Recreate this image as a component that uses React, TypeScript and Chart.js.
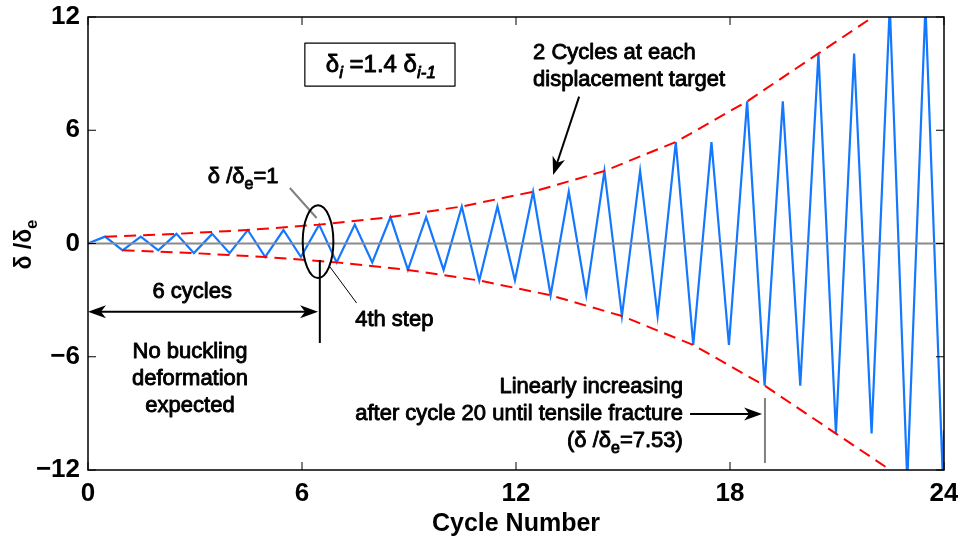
import React, { useEffect, useRef } from "react";
import { Chart, registerables } from "chart.js";

Chart.register(...registerables);

// ---------------- data ----------------
// x position (cycle number axis) of the positive peak of each cycle
const peakX = [0.48, 1.48, 2.48, 3.48, 4.48, 5.48, 6.48, 7.48, 8.48, 9.48, 10.48, 11.48,
  12.48, 13.48, 14.48, 15.48, 16.48, 17.48, 18.48, 19.48, 20.48, 21.48, 22.48, 23.48];
// x position of the negative peak of each cycle
const troughX = [0.97, 1.97, 2.97, 3.97, 4.97, 5.97, 6.97, 7.97, 8.97, 9.97, 10.97, 11.97,
  12.97, 13.97, 14.97, 15.97, 16.97, 17.97, 18.97, 19.97, 20.97, 21.97, 22.97, 23.97];
// amplitude δ/δe of each cycle (2 cycles at each displacement target)
const amplitudes = [0.364, 0.364, 0.51, 0.51, 0.714, 0.714, 1.0, 1.0, 1.4, 1.4, 1.96, 1.96,
  2.744, 2.744, 3.842, 3.842, 5.378, 5.378, 7.53, 7.53, 10.07, 10.07, 12.6, 12.6];
// first cycle of each displacement target (indices into the arrays above)
const stepStarts = [0, 2, 4, 6, 8, 10, 12, 14, 16, 18, 20, 22];
// start and end of the recorded history
const startPoint = { x: 0, y: 0 };
const endPoint = { x: 24, y: -9.9 };
// zero reference line
const zeroLineX = [0, 24];
const zeroLineY = [0, 0];
// axes
const xRange = [0, 24];
const yRange = [-12, 12];
const xTickStep = 6;
const yTickStep = 6;

// ---------------- derived series ----------------
const loadingPath: { x: number; y: number }[] = [startPoint];
peakX.forEach((px, i) => {
  loadingPath.push({ x: px, y: amplitudes[i] });
  loadingPath.push({ x: troughX[i], y: -amplitudes[i] });
});
loadingPath.push(endPoint);
const upperEnvelope = stepStarts.map((i) => ({ x: peakX[i], y: amplitudes[i] }));
const lowerEnvelope = stepStarts.map((i) => ({ x: troughX[i], y: -amplitudes[i] }));
const zeroLine = zeroLineX.map((x, i) => ({ x, y: zeroLineY[i] }));

const FONT = '"Liberation Sans", Arial, Helvetica, sans-serif';

type Part = { t: string; sub?: boolean; it?: boolean };

function drawRich(
  ctx: CanvasRenderingContext2D,
  parts: Part[],
  x: number,
  y: number,
  align: "left" | "center" | "right",
  size: number,
  weight = "normal",
  thicken = 0.9
) {
  const subSize = Math.round(size * 0.72);
  const fonts = parts.map(
    (p) => `${p.it ? "italic " : ""}${weight} ${p.sub ? subSize : size}px ${FONT}`
  );
  let total = 0;
  const ws = parts.map((p, i) => {
    ctx.font = fonts[i];
    const w = ctx.measureText(p.t).width;
    total += w;
    return w;
  });
  let cx = align === "left" ? x : align === "center" ? x - total / 2 : x - total;
  ctx.textAlign = "left";
  ctx.textBaseline = "alphabetic";
  ctx.lineJoin = "round";
  parts.forEach((p, i) => {
    ctx.font = fonts[i];
    const yy = p.sub ? y + size * 0.28 : y;
    ctx.fillText(p.t, cx, yy);
    if (thicken > 0) {
      ctx.lineWidth = thicken;
      ctx.strokeText(p.t, cx, yy);
    }
    cx += ws[i];
  });
}

function seg(ctx: CanvasRenderingContext2D, x1: number, y1: number, x2: number, y2: number) {
  ctx.beginPath();
  ctx.moveTo(x1, y1);
  ctx.lineTo(x2, y2);
  ctx.stroke();
}

function arrowHead(
  ctx: CanvasRenderingContext2D,
  x1: number,
  y1: number,
  x2: number,
  y2: number,
  head = 18,
  half = 6.5
) {
  const a = Math.atan2(y2 - y1, x2 - x1);
  const ux = Math.cos(a), uy = Math.sin(a);
  const nx = -uy, ny = ux;
  const bx = x2 - ux * head, by = y2 - uy * head;
  const kx = x2 - ux * head * 0.72, ky = y2 - uy * head * 0.72;
  ctx.beginPath();
  ctx.moveTo(x2, y2);
  ctx.lineTo(bx + nx * half, by + ny * half);
  ctx.lineTo(kx, ky);
  ctx.lineTo(bx - nx * half, by - ny * half);
  ctx.closePath();
  ctx.fill();
}

function arrow(ctx: CanvasRenderingContext2D, x1: number, y1: number, x2: number, y2: number) {
  const a = Math.atan2(y2 - y1, x2 - x1);
  seg(ctx, x1, y1, x2 - Math.cos(a) * 10, y2 - Math.sin(a) * 10);
  arrowHead(ctx, x1, y1, x2, y2);
}

const decorPlugin = {
  id: "decor",
  afterDatasetsDraw(chart: any) {
    const { ctx, chartArea: ca } = chart;
    const xs = chart.scales.x;
    const ys = chart.scales.y;
    const X = (v: number) => xs.getPixelForValue(v);
    const Y = (v: number) => ys.getPixelForValue(v);
    ctx.save();

    // frame and inward ticks
    ctx.strokeStyle = "#000";
    ctx.fillStyle = "#000";
    ctx.lineWidth = 1.5;
    ctx.strokeRect(ca.left, ca.top, ca.right - ca.left, ca.bottom - ca.top);
    ctx.lineWidth = 1;
    const tl = 8;
    xs.ticks.forEach((t: any) => {
      const p = X(t.value);
      seg(ctx, p, ca.bottom, p, ca.bottom - tl);
      seg(ctx, p, ca.top, p, ca.top + tl);
    });
    ys.ticks.forEach((t: any) => {
      const p = Y(t.value);
      seg(ctx, ca.left, p, ca.left + tl, p);
      seg(ctx, ca.right, p, ca.right - tl, p);
    });

    // axis titles
    ctx.fillStyle = "#000";
    ctx.strokeStyle = "#000";
    drawRich(ctx, [{ t: "Cycle Number" }], (ca.left + ca.right) / 2, 531, "center", 25, "bold", 0);
    ctx.save();
    ctx.translate(31, (ca.top + ca.bottom) / 2 + 1);
    ctx.rotate(-Math.PI / 2);
    drawRich(ctx, [{ t: "δ /δ" }, { t: "e", sub: true }], 0, 0, "center", 23, "bold", 0);
    ctx.restore();

    // box with the amplification rule
    ctx.lineWidth = 1.2;
    ctx.fillStyle = "#fff";
    const bx0 = X(6.08), bx1 = X(10.29), by0 = Y(10.62), by1 = Y(8.34);
    ctx.fillRect(bx0, by0, bx1 - bx0, by1 - by0);
    ctx.strokeStyle = "#000";
    ctx.strokeRect(bx0, by0, bx1 - bx0, by1 - by0);
    ctx.fillStyle = "#000";
    drawRich(
      ctx,
      [{ t: "δ" }, { t: "i", sub: true, it: true }, { t: " =1.4 δ" }, { t: "i-1", sub: true, it: true }],
      X(8.21),
      Y(9.1),
      "center",
      24
    );

    // "2 Cycles at each displacement target"
    drawRich(ctx, [{ t: "2 Cycles at each" }], X(12.48), Y(9.77), "left", 22);
    drawRich(ctx, [{ t: "displacement target" }], X(12.48), Y(8.34), "left", 22);
    ctx.lineWidth = 2;
    arrow(ctx, X(13.77), Y(7.78), X(13.04), Y(3.63));

    // δ/δe = 1 with gray leader and ellipse
    drawRich(ctx, [{ t: "δ /δ" }, { t: "e", sub: true }, { t: "=1" }], X(3.36), Y(3.2), "left", 22);
    ctx.strokeStyle = "#808080";
    ctx.lineWidth = 2;
    seg(ctx, X(5.66), Y(2.94), X(6.41), Y(1.35));
    ctx.strokeStyle = "#000";
    ctx.lineWidth = 2;
    ctx.beginPath();
    ctx.ellipse(X(6.45), Y(0.1), X(6.45 + 0.43) - X(6.45), Y(0.1) - Y(0.1 + 1.93), 0, 0, Math.PI * 2);
    ctx.stroke();

    // vertical marker at the 6th cycle
    seg(ctx, X(6.5), Y(-0.87), X(6.5), Y(-5.27));

    // "6 cycles" double arrow
    ctx.lineWidth = 2;
    const ay = Y(-3.61);
    seg(ctx, X(0) + 10, ay, X(6.45) - 10, ay);
    arrowHead(ctx, X(6.45), ay, X(0), ay);
    arrowHead(ctx, X(0), ay, X(6.45), ay);
    drawRich(ctx, [{ t: "6 cycles" }], X(2.92), Y(-2.89), "center", 22);

    // 4th step leader
    ctx.lineWidth = 1;
    seg(ctx, X(6.78), Y(-1.23), X(7.53), Y(-3.15));
    drawRich(ctx, [{ t: "4th step" }], X(7.49), Y(-4.37), "left", 22);

    // No buckling text
    drawRich(ctx, [{ t: "No buckling" }], X(2.86), Y(-6.07), "center", 22);
    drawRich(ctx, [{ t: "deformation" }], X(2.86), Y(-7.5), "center", 22);
    drawRich(ctx, [{ t: "expected" }], X(2.86), Y(-8.93), "center", 22);

    // Linearly increasing annotation
    drawRich(ctx, [{ t: "Linearly increasing" }], X(16.68), Y(-7.92), "right", 22);
    drawRich(ctx, [{ t: "after cycle 20 until tensile fracture" }], X(16.68), Y(-9.35), "right", 22);
    drawRich(ctx, [{ t: "(δ /δ" }, { t: "e", sub: true }, { t: "=7.53)" }], X(16.68), Y(-10.78), "right", 22);
    ctx.lineWidth = 2;
    arrow(ctx, X(16.88), Y(-9.03), X(18.9), Y(-9.03));
    ctx.strokeStyle = "#808080";
    seg(ctx, X(18.98), Y(-8.19), X(18.98), Y(-11.63));

    ctx.restore();
  },
};

export default function App() {
  const ref = useRef<HTMLCanvasElement>(null);
  useEffect(() => {
    if (!ref.current) return;
    const tickFont = { family: FONT, size: 26, weight: "bold" as const };
    const chart = new Chart(ref.current, {
      type: "scatter",
      data: {
        datasets: [
          {
            data: upperEnvelope,
            showLine: true,
            borderColor: "#ff0000",
            borderWidth: 2,
            borderDash: [12, 7],
            pointRadius: 0,
          },
          {
            data: lowerEnvelope,
            showLine: true,
            borderColor: "#ff0000",
            borderWidth: 2,
            borderDash: [12, 7],
            pointRadius: 0,
          },
          {
            data: zeroLine,
            showLine: true,
            borderColor: "#8a8a8a",
            borderWidth: 2,
            pointRadius: 0,
          },
          {
            data: loadingPath,
            showLine: true,
            borderColor: "#1478ff",
            borderWidth: 2.2,
            pointRadius: 0,
          },
        ],
      },
      options: {
        responsive: false,
        animation: false,
        events: [],
        layout: { padding: { top: 17, right: 14, left: 0, bottom: 0 } },
        plugins: { legend: { display: false }, tooltip: { enabled: false } },
        scales: {
          x: {
            type: "linear",
            min: xRange[0],
            max: xRange[1],
            grid: { display: false, drawTicks: false },
            border: { display: false },
            ticks: {
              stepSize: xTickStep,
              font: tickFont,
              color: "#000",
              padding: 8,
              maxRotation: 0,
              autoSkip: false,
            },
            afterFit: (s: any) => {
              s.height = 70;
              s.paddingLeft = 0;
              s.paddingRight = 0;
            },
          },
          y: {
            type: "linear",
            min: yRange[0],
            max: yRange[1],
            grid: { display: false, drawTicks: false },
            border: { display: false },
            ticks: {
              stepSize: yTickStep,
              font: tickFont,
              color: "#000",
              padding: 8,
              autoSkip: false,
              callback: (v: any) => (Number(v) < 0 ? "\u2212" + Math.abs(Number(v)) : String(v)),
            },
            afterFit: (s: any) => {
              s.width = 88;
              s.paddingTop = 0;
              s.paddingBottom = 0;
            },
          },
        },
      },
      plugins: [decorPlugin],
    });
    return () => chart.destroy();
  }, []);
  return (
    <div style={{ position: "fixed", left: 0, top: 0, width: 958, height: 540, background: "#fff" }}>
      <canvas ref={ref} width={958} height={540} style={{ display: "block", width: 958, height: 540 }} />
    </div>
  );
}
